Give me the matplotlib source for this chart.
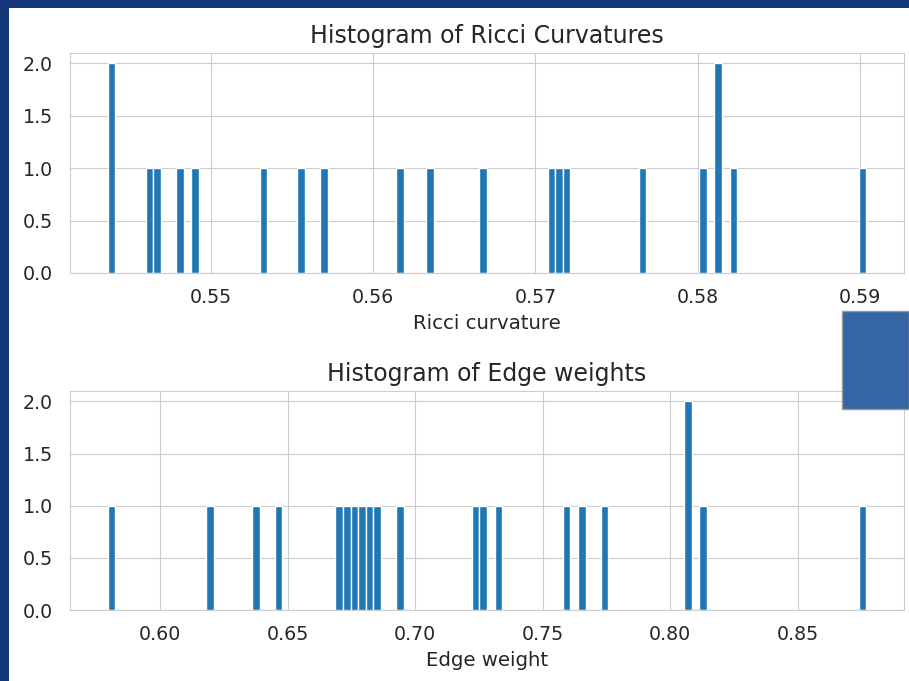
import matplotlib
matplotlib.use('Agg')
import matplotlib.pyplot as plt
import seaborn as sns
from matplotlib.patches import Rectangle

# Valores (21 arestas)
ricci_curvatures = [
    0.54366, 0.54370, 0.54625, 0.54674, 0.54814, 0.54906, 0.55324,
    0.55560, 0.55697, 0.56167, 0.56355, 0.56683, 0.57100, 0.57145,
    0.57196, 0.57661, 0.58034, 0.58128, 0.58132, 0.58221, 0.59037,
]
edge_weights = [
    0.5796, 0.6200, 0.6378, 0.6467, 0.6704, 0.6733, 0.6762,
    0.6792, 0.6823, 0.6852, 0.6942, 0.7239, 0.7270, 0.7326,
    0.7595, 0.7654, 0.7745, 0.8071, 0.8074, 0.8128, 0.8768,
]
n_bins = 100

sns.set_style('whitegrid')
plt.rcParams['font.family'] = ['DejaVu Sans']

W, H = 909, 681
fig = plt.figure(figsize=(W / 100, H / 100), dpi=100)
fig.patch.set_facecolor('#14387a')

# área branca do screenshot
fig.patches.append(Rectangle((9 / W, 0), 1 - 9 / W, 1 - 8 / H, transform=fig.transFigure,
                             facecolor='white', edgecolor='none', zorder=-10))

ax1 = fig.add_axes([70 / W, 1 - 273 / H, 834 / W, 220 / H])
ax2 = fig.add_axes([70 / W, 1 - 610 / H, 834 / W, 219 / H])

text_color = '#262626'
for ax, data, title, xlabel in [
    (ax1, ricci_curvatures, 'Histogram of Ricci Curvatures', 'Ricci curvature'),
    (ax2, edge_weights, 'Histogram of Edge weights', 'Edge weight'),
]:
    ax.hist(data, bins=n_bins, color='#1f77b4', edgecolor='white', linewidth=1)
    ax.set_title(title, fontsize=17, color=text_color, pad=7)
    ax.set_xlabel(xlabel, fontsize=14.2, color=text_color, labelpad=5)
    ax.tick_params(labelsize=13.7, colors=text_color)
    ax.tick_params(axis='x', pad=7)
    ax.tick_params(axis='y', pad=9)
    ax.set_yticks([0.0, 0.5, 1.0, 1.5, 2.0])
    ax.set_yticklabels(['0.0', '0.5', '1.0', '1.5', '2.0'])
    for s in ax.spines.values():
        s.set_color('#cccccc')

ax1.set_xticks([0.55, 0.56, 0.57, 0.58, 0.59])
ax1.set_xticklabels(['0.55', '0.56', '0.57', '0.58', '0.59'])
ax2.set_xticks([0.60, 0.65, 0.70, 0.75, 0.80, 0.85])
ax2.set_xticklabels(['0.60', '0.65', '0.70', '0.75', '0.80', '0.85'])

# retângulo azul sobreposto (do slide)
fig.patches.append(Rectangle((842 / W, 1 - 409 / H), 67 / W, 98 / H, transform=fig.transFigure,
                             facecolor='#3465a4', edgecolor='#9a9a9a', linewidth=1, zorder=10))

plt.savefig('out.png', dpi=100, facecolor=fig.get_facecolor())
